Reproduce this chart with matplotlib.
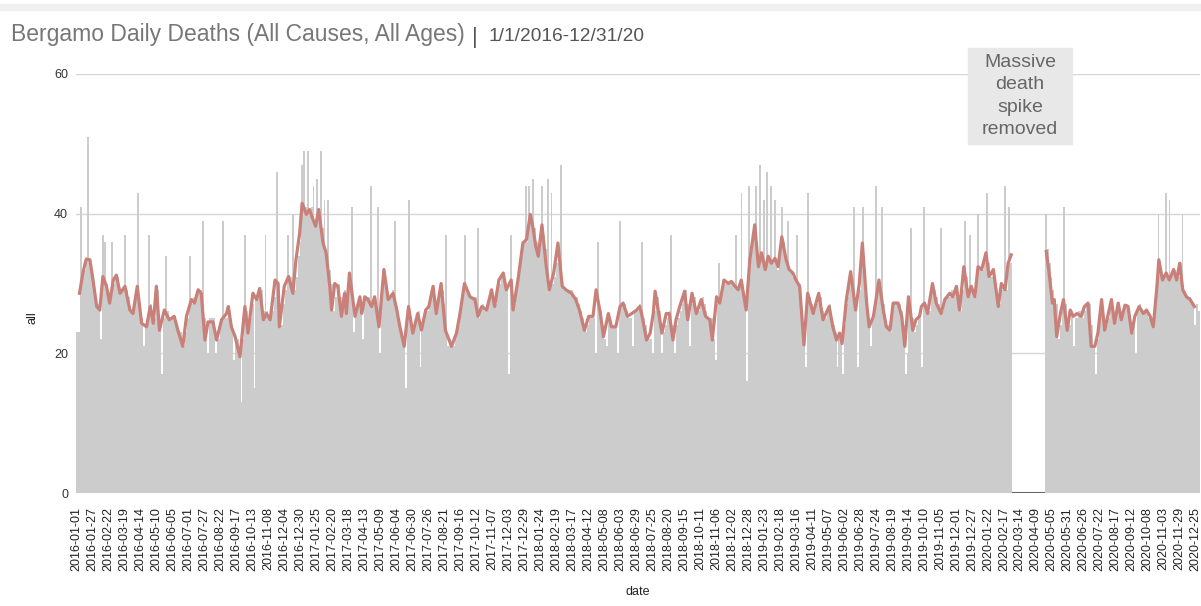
import matplotlib
matplotlib.use("Agg")
import matplotlib.pyplot as plt
from matplotlib.patches import Rectangle
import pandas as pd

plt.rcParams['font.family'] = ['Liberation Sans', 'DejaVu Sans']

START = "2016-01-01"
GAP_START = "2020-03-01"   # spike removed from here
GAP_END = "2020-04-23"

# deaths per day, one reading every 3 days
deaths = [
    23, 23, 41, 31, 32, 33, 51, 33, 32, 30, 28,
    27, 26, 22, 37, 36, 30, 28, 27, 36, 30,
    31, 31, 29, 29, 29, 37, 29, 28, 26, 26,
    26, 28, 43, 27, 25, 21, 24, 24, 37, 27,
    25, 25, 28, 29, 24, 17, 25, 34, 26, 25,
    25, 25, 25, 24, 23, 23, 22, 21, 23, 25,
    34, 27, 28, 27, 28, 29, 29, 39, 25, 22,
    20, 25, 25, 25, 20, 22, 22, 24, 39, 25,
    25, 26, 26, 24, 19, 22, 22, 21, 13, 22,
    37, 26, 23, 25, 27, 15, 28, 28, 29, 29,
    26, 37, 26, 25, 25, 26, 28, 46, 30, 27,
    24, 27, 29, 37, 31, 31, 40, 29, 31, 34,
    36, 47, 49, 41, 49, 40, 41, 44, 39, 45,
    39, 49, 38, 42, 35, 42, 32, 30, 26, 28,
    30, 30, 28, 27, 29, 26, 29, 30, 41,
    23, 26, 27, 28, 26, 22, 28, 28, 28, 44,
    27, 28, 27, 41, 20, 28, 31, 31, 29, 28,
    28, 29, 39, 27, 25, 24, 23, 22, 15, 24,
    42, 25, 23, 24, 25, 26, 18, 23, 25, 26,
    26, 27, 28, 29, 28, 26, 28, 29, 29, 27,
    37, 21, 22, 21, 21, 22, 23, 24, 26, 28,
    37, 29, 29, 28, 28, 28, 28, 38, 25, 26,
    27, 26, 26, 27, 28, 29, 28, 27, 29, 30,
    31, 31, 30, 29, 17, 37, 28, 27, 28, 30,
    32, 34, 36, 44, 36, 44, 39, 45, 38, 36,
    35, 35, 44, 37, 35, 45, 30, 43, 30, 31,
    33, 35, 47, 31, 29, 29, 29, 29, 29, 28,
    28, 28, 27, 26, 25, 24, 23, 24, 25, 25,
    25, 20, 36, 27, 26, 24, 22, 21, 25, 25,
    24, 24, 24, 20, 39, 27, 27, 27, 26, 25,
    25, 21, 26, 26, 26, 27, 36, 25, 24, 22,
    22, 22, 20, 26, 28, 28, 26, 20, 23, 24,
    25, 26, 37, 24, 20, 24, 25, 26, 27, 28,
    29, 27, 21, 27, 28, 28, 26, 26, 27, 28,
    27, 26, 25, 25, 25, 22, 19, 27, 33,
    28, 30, 30, 30, 30, 30, 30, 30, 37, 29,
    30, 43, 29, 27, 16, 44, 34, 36, 38, 44,
    33, 47, 34, 42, 32, 46, 34, 44, 33, 42,
    33, 32, 34, 41, 36, 34, 39, 32, 32, 31,
    31, 37, 30, 30, 26, 22, 18, 43, 28, 27,
    26, 26, 27, 28, 28, 26, 25, 25, 26, 27,
    25, 24, 23, 18, 22, 22, 17, 24, 27, 28,
    30, 31, 41, 27, 18, 29, 32, 41, 32, 28,
    25, 21, 25, 25, 44, 29, 30, 41, 27, 25,
    24, 24, 23, 26, 27, 27, 27, 27, 26, 24,
    17, 20, 27, 38, 25, 23, 24, 25, 25, 18,
    41, 27, 26, 26, 28, 30, 29, 28, 27, 38,
    26, 27, 28, 28, 28, 29, 28, 29, 29, 28,
    26, 29, 39, 31, 29, 37, 29, 29, 28, 40,
    32, 32, 32, 33, 43, 33, 31, 31, 32, 30,
    28, 27, 29, 30, 44, 29, 41, 33, 0,
    0, 0, 0, 0, 0, 0, 0, 0, 0, 0, 0, 0, 0, 0, 0, 0, 0,
    40, 35, 33, 31,
    29, 27, 27, 22, 24, 26, 41, 27, 25, 24,
    26, 21, 25, 25, 26, 26, 25, 26, 27, 27,
    27, 24, 21, 17, 22, 24, 27, 26, 23,
    24, 25, 27, 27, 25, 25, 27, 26, 25, 26,
    27, 27, 26, 24, 23, 25, 20, 26, 27, 26,
    26, 26, 26, 25, 25, 24, 26, 29, 40, 33,
    31, 31, 43, 31, 42, 31, 32, 32, 31, 31,
    33, 40, 29, 28, 28, 28, 27, 27, 24, 27, 26,
]

# moving average line: days after START and value
ma_day = [
    5, 11, 16, 22, 27, 33, 38, 43, 49, 54, 60, 65, 71, 79, 87, 92, 99, 106, 114, 120,
    125, 130, 135, 143, 151, 159, 165, 173, 179, 187, 192, 198, 203, 209, 214, 222, 228, 236, 244, 247,
    252, 258, 266, 274, 279, 287, 293, 298, 304, 309, 315, 323, 328, 330, 338, 345, 352, 357, 363, 367,
    374, 379, 385, 389, 394, 401, 406, 412, 415, 420, 425, 431, 436, 439, 444, 453, 461,
    464, 469, 474, 480, 485, 492, 500, 507, 515, 521, 526, 533, 540, 547, 555, 561, 568, 573, 580, 585,
    593, 600, 610, 618, 623, 631, 640, 648, 653, 659, 667, 675, 680, 687, 694, 699, 707, 710, 718, 726,
    732, 738, 742, 747, 751, 757, 764, 769, 776, 783, 790, 796, 805, 812, 818, 826, 833, 840, 845, 852,
    857, 865, 870, 877, 884, 889, 896, 903, 911, 916,
    919, 927, 933, 938, 941, 947, 952, 959, 964, 970, 975, 981, 989, 994, 1001, 1008, 1016, 1023, 1030, 1034,
    1041, 1046, 1053, 1060, 1065, 1071, 1076, 1081, 1089, 1095, 1103, 1109, 1114, 1120, 1125, 1130, 1136, 1141, 1147, 1154,
    1159, 1165, 1170, 1176, 1183, 1189, 1198, 1207, 1214, 1224, 1230, 1236, 1241, 1245, 1252, 1259, 1267, 1273, 1278, 1285,
    1289, 1296, 1305, 1312, 1317, 1323, 1328, 1336, 1342, 1347, 1353, 1360, 1365, 1371,
    1374, 1379, 1384, 1392, 1398, 1406, 1412, 1420, 1425, 1431, 1436, 1443, 1450, 1455, 1461, 1466, 1472, 1479, 1484, 1491,
    1499, 1504, 1510, 1515, 1520,
    1574, 1577, 1581, 1587, 1590, 1594, 1600, 1605, 1611, 1616, 1621, 1627, 1634, 1639, 1645, 1650, 1656, 1661, 1667, 1672,
    1677, 1683, 1688, 1694, 1699, 1705, 1710, 1716, 1721, 1728, 1735, 1740, 1746, 1751, 1757, 1760, 1766, 1772, 1777, 1784,
    1789, 1794, 1799, 1805, 1811, 1818,
]
ma_val = [
    28.6, 31.7, 33.5, 33.4, 30.5, 26.7, 26.2, 31, 29.6, 27.2, 30.5, 31.2, 28.6, 29.6, 26.2, 25.7, 29.6, 24.3, 23.8, 26.7,
    24.3, 29.6, 23.3, 26.2, 24.8, 25.3, 23.3, 21.0, 25.3, 27.7, 27.2, 29.1, 28.6, 21.9, 24.5, 24.5, 21.9, 24.8, 25.7, 26.7,
    23.8, 22.4, 19.5, 26.7, 22.9, 28.6, 27.7, 29.3, 24.8, 25.7, 24.8, 30.5, 30.0, 23.8, 29.6, 31.0, 28.6, 33.4, 37.2, 41.5,
    39.9, 40.6, 39.1, 38.2, 40.6, 35.8, 34.4, 29.6, 26.2, 30, 29.6, 25.3, 28.6, 25.7, 31.5, 25.3, 28.1,
    25.7, 28.1, 27.7, 26.7, 28.1, 23.8, 32, 27.7, 28.6, 26.2, 23.8, 21, 26.7, 22.9, 25.7, 23.3, 26.2, 26.7, 29.6, 25.7,
    30, 23.3, 21, 22.9, 25.3, 30, 28.1, 27.7, 25.3, 26.7, 26.2, 29.1, 26.7, 30.5, 31.5, 29.1, 30.5, 26.2, 30.5, 35.8,
    36.3, 39.9, 38.2, 35.3, 33.9, 38.4, 32.4, 29.1, 31.5, 35.8, 29.6, 29.1, 28.6, 27.7, 26.2, 23.3, 25.3, 25.3, 29.1, 25.7,
    22.4, 25.7, 23.8, 23.8, 26.7, 27.2, 25.3, 25.7, 26.2, 26.7,
    25.7, 21.9, 22.9, 25.7, 28.9, 25.7, 22.9, 25.7, 25.7, 21.9, 24.8, 26.7, 28.9, 24.8, 28.6, 25.7, 27.7, 25.3, 24.8, 21.9,
    28.1, 27.2, 30.5, 30, 30.3, 29.6, 29.1, 30.5, 26.2, 33.4, 38.4, 32.4, 34.4, 32, 33.9, 32.9, 33.6, 32.4, 36.7, 33.4,
    32, 31.5, 30.5, 29.6, 21.2, 28.6, 25.7, 28.6, 24.8, 26.7, 23.8, 21.9, 22.9, 21.4, 27.7, 31.7, 26.2, 30, 35.8, 27.2,
    23.8, 25.3, 30.5, 26.2, 23.8, 23.3, 27.2, 27.2, 25.3, 21, 28.1, 23.3, 24.8, 25.3,
    26.7, 27.2, 25.7, 30, 27.2, 25.7, 27.7, 28.6, 28.1, 29.6, 26.2, 32.4, 28.1, 29.6, 28.1, 32.4, 32, 34.4, 31, 32,
    26.7, 30, 29.1, 32.9, 34.1,
    33.9, 34.6, 32, 27.2, 27.7, 22.4, 25.7, 27.7, 23.3, 26.2, 25.3, 25.7, 25.3, 26.7, 27.2, 21, 21, 22.9, 27.7, 23.3,
    25.3, 27.7, 24.3, 27.2, 24.8, 26.9, 26.7, 22.9, 25.3, 26.7, 25.7, 26.2, 25.3, 23.8, 29.6, 33.4, 30.5, 31.5, 30.5, 32,
    30.5, 32.9, 29.1, 28.1, 27.7, 26.7,
]

tick_dates = pd.date_range("2016-01-01", "2020-12-31", freq="26D")

W, H = 1201, 606
fig = plt.figure(figsize=(W / 100, H / 100), dpi=100)
ax = fig.add_axes([76.4 / W, 113 / H, 1123.6 / W, 419 / H])

bar_dates = pd.date_range(START, periods=len(deaths), freq="3D")
ax.bar(bar_dates, deaths, width=3, align="edge", color="#cccccc", linewidth=0, zorder=2)

ma = pd.Series(ma_val, index=pd.Timestamp(START) + pd.to_timedelta(ma_day, unit="D"))
for seg in (ma[ma.index < GAP_START], ma[ma.index > GAP_END]):
    ax.plot(seg.index, seg.values, color="#c98079", lw=2.3, zorder=3)

ax.axhline(0, color="#666666", lw=1.5, zorder=1)

ax.set_xlim(pd.Timestamp("2016-01-01"), pd.Timestamp("2021-01-01"))
ax.set_ylim(0, 60)
ax.set_yticks([0, 20, 40, 60])
ax.grid(axis="y", color="#d6d6d6", lw=1)
ax.set_axisbelow(True)
for s in ax.spines.values():
    s.set_visible(False)

ax.set_xticks(tick_dates)
ax.set_xticklabels([d.strftime("%Y-%m-%d") for d in tick_dates], rotation=90,
                   fontsize=9, color="#222222")
ax.tick_params(axis="x", length=0, pad=10)
ax.tick_params(axis="y", length=0, pad=6, labelsize=9, labelcolor="#333333")

fig.text(33 / W, 1 - 318 / H, "all", rotation=90, ha="center", va="center",
         fontsize=9, color="#222222")
fig.text(638 / W, 1 - 592 / H, "date", ha="center", va="center",
         fontsize=9, color="#222222")

# light band at the very top
fig.patches.append(Rectangle((0, 1 - 10 / H), 1, 6 / H, transform=fig.transFigure,
                             color="#f0f0f0", zorder=0))

# title
t1 = fig.text(11 / W, 1 - 41 / H, "Bergamo Daily Deaths (All Causes, All Ages)",
              fontsize=16.5, color="#777777", va="baseline")
fig.canvas.draw()
x1 = t1.get_window_extent().x1
fig.text((x1 + 10) / W, 1 - 43 / H, "|", fontsize=16, color="#555555", va="baseline", ha="center")
fig.text((x1 + 24) / W, 1 - 41 / H, "1/1/2016-12/31/20",
         fontsize=13.8, color="#555555", va="baseline")

# note box over the gap
fig.patches.append(Rectangle((968 / W, 1 - 144 / H), 104 / W, 96 / H,
                             transform=fig.transFigure, color="#e8e8e8", zorder=5))
fig.text(1020 / W, 1 - 96 / H, "Massive\ndeath\nspike\nremoved", ha="center", va="center",
         fontsize=14, color="#666666", linespacing=1.42, zorder=6)

fig.savefig("out.png", dpi=100)
